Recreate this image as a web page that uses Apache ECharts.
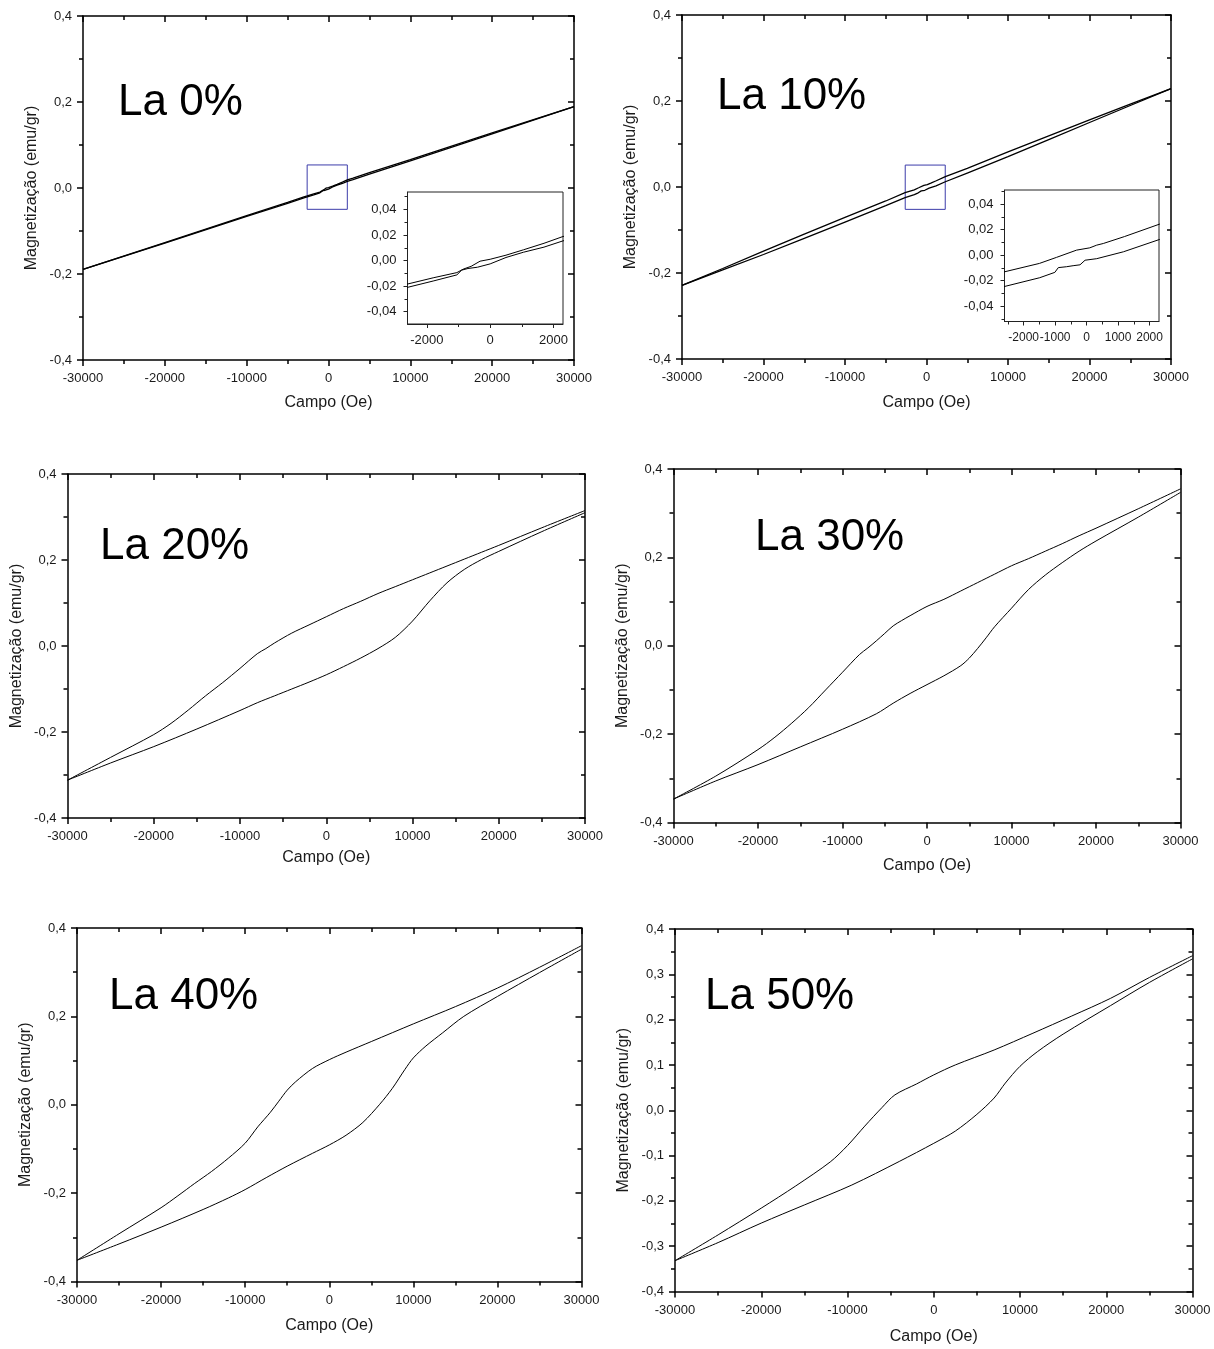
<!DOCTYPE html>
<html><head><meta charset="utf-8">
<script src="https://cdn.jsdelivr.net/npm/echarts@6/dist/echarts.min.js"></script>
<style>html,body{margin:0;padding:0;background:#fff}#c{width:1214px;height:1349px}</style>
</head><body><div id="c"></div>
<script>
const FONT = "'Liberation Sans', Arial, Helvetica, sans-serif";

// ---- texts & tick settings ----
const xTitle = 'Campo (Oe)';
const yTitle = 'Magnetização (emu/gr)';
const panelLabels = ['La 0%', 'La 10%', 'La 20%', 'La 30%', 'La 40%', 'La 50%'];
const fieldRange = [-30000, 30000];
const fieldStep = 10000;
const magRange = [-0.4, 0.4];
const magSteps = [0.2, 0.2, 0.2, 0.2, 0.2, 0.1];

const insetFieldRange = [-2610, 2300];
const insetMagRanges = [[-0.0496, 0.0536], [-0.052, 0.051]];
const insetMagLabels = [-0.04, -0.02, 0, 0.02, 0.04];
const insetMagMinor = [-0.05, -0.03, -0.01, 0.01, 0.03, 0.05];
const insetFieldLabels = [[-2000, 0, 2000], [-2000, -1000, 0, 1000, 2000]];
const insetFieldMinor = [[-1000, 1000], [-2500, -1500, -500, 500, 1500]];

// ---- data: [field (Oe), magnetization (emu/gr)] ----
const la0Upper = [[-30000,-0.189],[-20000,-0.127],[-10000,-0.064],[-5000,-0.0335],[-3000,-0.0205],[-2600,-0.0183],[-1800,-0.0135],[-1050,-0.0094],[-840,-0.0066],[-600,-0.0045],[-320,-0.0005],[0,0.001],[500,0.0042],[1050,0.0084],[1700,0.0135],[2300,0.0188],[3000,0.023],[5000,0.0355],[10000,0.066],[20000,0.128],[30000,0.189]];
const la0Lower = [[-30000,-0.189],[-20000,-0.128],[-10000,-0.066],[-5000,-0.0355],[-3000,-0.0228],[-2600,-0.0209],[-1800,-0.016],[-1050,-0.0112],[-900,-0.0075],[-700,-0.0062],[-400,-0.0052],[0,-0.0026],[500,0.0024],[1050,0.0065],[1700,0.0105],[2300,0.0154],[3000,0.0195],[5000,0.032],[10000,0.063],[20000,0.126],[30000,0.189]];

const la10Upper = [[-30000,-0.229],[-25000,-0.1895],[-20000,-0.149],[-15000,-0.1095],[-10000,-0.0705],[-5000,-0.0325],[-2630,-0.0132],[-1500,-0.0065],[-960,-0.0018],[-320,0.0039],[100,0.0057],[320,0.0078],[530,0.0091],[1200,0.0145],[2310,0.0242],[5000,0.0435],[10000,0.0815],[15000,0.119],[20000,0.156],[25000,0.1925],[30000,0.229]];
const la10Lower = [[-30000,-0.229],[-25000,-0.1925],[-20000,-0.157],[-15000,-0.1195],[-10000,-0.0815],[-5000,-0.0435],[-2630,-0.0247],[-1490,-0.0177],[-1010,-0.0135],[-900,-0.0098],[-640,-0.0091],[-430,-0.0083],[-210,-0.0076],[-50,-0.004],[320,-0.0028],[1170,0.0026],[2310,0.0122],[5000,0.0325],[10000,0.0705],[15000,0.110],[20000,0.150],[25000,0.1895],[30000,0.229]];

const la20Upper = [[-30000,-0.312],[-25000,-0.259],[-20000,-0.206],[-18000,-0.180],[-16000,-0.149],[-14000,-0.116],[-12000,-0.085],[-10000,-0.052],[-8000,-0.018],[-7000,-0.006],[-6000,0.007],[-4000,0.030],[-2000,0.049],[0,0.068],[2000,0.087],[4000,0.104],[6000,0.122],[8000,0.138],[10000,0.154],[12000,0.170],[14000,0.186],[16000,0.202],[18000,0.218],[20000,0.234],[25000,0.275],[30000,0.315]];
const la20Lower = [[-30000,-0.312],[-25000,-0.272],[-20000,-0.234],[-15000,-0.193],[-10000,-0.150],[-8000,-0.132],[-6000,-0.116],[-4000,-0.100],[-2000,-0.084],[0,-0.067],[2000,-0.048],[4000,-0.028],[6000,-0.006],[8000,0.020],[10000,0.058],[12000,0.105],[14000,0.147],[16000,0.178],[18000,0.201],[20000,0.220],[25000,0.266],[30000,0.310]];

const la30Upper = [[-30000,-0.347],[-25000,-0.295],[-20000,-0.235],[-18000,-0.207],[-16000,-0.175],[-14000,-0.140],[-12000,-0.100],[-10000,-0.060],[-8000,-0.020],[-7000,-0.005],[-6000,0.011],[-5000,0.028],[-4000,0.045],[-3000,0.057],[-2000,0.068],[0,0.089],[2000,0.105],[4000,0.124],[6000,0.143],[8000,0.162],[10000,0.181],[12000,0.197],[14000,0.214],[16000,0.231],[18000,0.249],[20000,0.266],[25000,0.310],[30000,0.355]];
const la30Lower = [[-30000,-0.347],[-25000,-0.306],[-20000,-0.269],[-15000,-0.229],[-10000,-0.189],[-6000,-0.154],[-4000,-0.130],[-2000,-0.108],[0,-0.088],[2000,-0.068],[4000,-0.045],[5000,-0.028],[6000,-0.006],[7000,0.018],[8000,0.043],[10000,0.085],[12000,0.127],[14000,0.160],[16000,0.188],[18000,0.214],[20000,0.237],[25000,0.291],[30000,0.347]];

const la40Upper = [[-30000,-0.352],[-25000,-0.292],[-20000,-0.233],[-18000,-0.206],[-16000,-0.178],[-14000,-0.151],[-12000,-0.121],[-10000,-0.087],[-8500,-0.050],[-7000,-0.017],[-6000,0.008],[-5000,0.033],[-4000,0.052],[-2000,0.082],[0,0.102],[2000,0.119],[5000,0.143],[10000,0.183],[15000,0.222],[20000,0.264],[25000,0.311],[30000,0.360]];
const la40Lower = [[-30000,-0.352],[-25000,-0.315],[-20000,-0.277],[-15000,-0.237],[-12000,-0.211],[-10000,-0.192],[-7500,-0.165],[-5000,-0.139],[-2000,-0.110],[0,-0.091],[2000,-0.069],[4000,-0.040],[6000,0.001],[7500,0.037],[9000,0.080],[10000,0.106],[11500,0.133],[13500,0.163],[16000,0.200],[20000,0.245],[25000,0.299],[30000,0.352]];

const la50Upper = [[-30000,-0.332],[-25000,-0.275],[-20000,-0.216],[-16000,-0.167],[-12000,-0.114],[-10000,-0.078],[-8000,-0.035],[-6000,0.006],[-4500,0.034],[-2000,0.058],[0,0.078],[2500,0.100],[7000,0.133],[11500,0.170],[16000,0.208],[20500,0.247],[25000,0.293],[30000,0.341]];
const la50Lower = [[-30000,-0.332],[-25000,-0.292],[-20000,-0.249],[-15000,-0.209],[-9500,-0.165],[-4000,-0.113],[0,-0.073],[2500,-0.046],[5000,-0.009],[7000,0.027],[8300,0.060],[10000,0.097],[12000,0.129],[15000,0.168],[20500,0.231],[25000,0.282],[30000,0.334]];

const panelData = [
  [la0Upper, la0Lower], [la10Upper, la10Lower], [la20Upper, la20Lower],
  [la30Upper, la30Lower], [la40Upper, la40Lower], [la50Upper, la50Lower]
];

// ---- layout (pixel boxes: left, top, right, bottom) ----
const panelRects = [[83,16,574,360],[682,15,1171,359],[67.5,474,585,818],[673.5,469,1180.5,822.5],[77,928,581.5,1281.5],[675,929,1192.5,1291.5]];
const labelPos = [[118,81],[717,75],[100,525],[755,516],[109,975],[705,975]];
const xNameGaps = [35,36,32,35,36,37];
const yNameGap = 43;
const lineWidths = [1.3,1.3,1,1,1,1];
const insetRects = [[407.5,192,563,324],[1004.5,190,1159,321.5]];
const insetXFont = [13, 12];

const option = {animation:false, backgroundColor:'#fff', textStyle:{fontFamily:FONT}, title:[], grid:[], xAxis:[], yAxis:[], series:[]};
const AX = {color:'#000', width:1.5};
const LBL = {fontSize:13, color:'#1a1a1a', fontFamily:FONT};
const comma = (v, d) => (Math.abs(v) < 1e-9 ? 0 : v).toFixed(d).replace('.', ',');
const plain = v => (Math.abs(v) < 1e-9 ? 0 : v).toFixed(0);

function addGrid(r, extra){
  option.grid.push(Object.assign({left:r[0], top:r[1], width:r[2]-r[0], height:r[3]-r[1], containLabel:false, outerBoundsMode:'none'}, extra || {}));
  return option.grid.length - 1;
}

panelRects.forEach((r, i) => {
  const g = addGrid(r);
  const xi = option.xAxis.length, yi = option.yAxis.length;
  const xBase = {gridIndex:g, type:'value', min:fieldRange[0], max:fieldRange[1], interval:fieldStep, splitLine:{show:false}, minorSplitLine:{show:false}};
  const yBase = {gridIndex:g, type:'value', min:magRange[0], max:magRange[1], interval:magSteps[i], splitLine:{show:false}, minorSplitLine:{show:false}};
  option.xAxis.push(Object.assign({}, xBase, {position:'bottom',
    axisLine:{show:true, onZero:false, lineStyle:AX}, axisTick:{show:true, inside:false, length:6, lineStyle:AX},
    minorTick:{show:true, splitNumber:2, length:4, lineStyle:AX},
    axisLabel:Object.assign({margin:12, formatter:plain, hideOverlap:false}, LBL),
    name:xTitle, nameLocation:'middle', nameGap:xNameGaps[i], nameTextStyle:{fontSize:16, color:'#1a1a1a', fontFamily:FONT}}));
  option.xAxis.push(Object.assign({}, xBase, {position:'top',
    axisLine:{show:true, onZero:false, lineStyle:AX}, axisTick:{show:true, inside:true, length:6, lineStyle:AX},
    minorTick:{show:true, splitNumber:2, length:4, lineStyle:AX}, axisLabel:{show:false}}));
  option.yAxis.push(Object.assign({}, yBase, {position:'left',
    axisLine:{show:true, onZero:false, lineStyle:AX}, axisTick:{show:true, inside:false, length:6, lineStyle:AX},
    minorTick:{show:true, splitNumber:2, length:4, lineStyle:AX},
    axisLabel:Object.assign({margin:11, formatter:v => comma(v, 1)}, LBL),
    name:yTitle, nameLocation:'middle', nameRotate:90, nameGap:yNameGap, nameTextStyle:{fontSize:16, color:'#1a1a1a', fontFamily:FONT}}));
  option.yAxis.push(Object.assign({}, yBase, {position:'right',
    axisLine:{show:true, onZero:false, lineStyle:AX}, axisTick:{show:true, inside:true, length:6, lineStyle:AX},
    minorTick:{show:true, splitNumber:2, length:4, lineStyle:AX}, axisLabel:{show:false}}));
  panelData[i].forEach((d, k) => {
    const s = {type:'line', xAxisIndex:xi, yAxisIndex:yi, data:d, showSymbol:false, symbol:'none', silent:true, clip:true,
      smooth: i >= 2 ? 0.3 : false, lineStyle:{color:'#000', width:lineWidths[i]}, z:3};
    if (i < 2 && k === 0) {
      const yr = insetMagRanges[i];
      s.markArea = {silent:true, itemStyle:{color:'rgba(0,0,0,0)', borderColor:'#3c3caa', borderWidth:1}, label:{show:false},
        data:[[{xAxis:insetFieldRange[0], yAxis:yr[0]}, {xAxis:insetFieldRange[1], yAxis:yr[1]}]]};
    }
    option.series.push(s);
  });
  option.title.push({text:panelLabels[i], left:labelPos[i][0], top:labelPos[i][1], padding:0,
    textStyle:{fontSize:44, fontWeight:'normal', color:'#000', fontFamily:FONT}});
});

// ---- insets ----
insetRects.forEach((r, j) => {
  const g = addGrid(r, {show:true, backgroundColor:'#fff', borderColor:'#222', borderWidth:1, z:5});
  const yr = insetMagRanges[j];
  const IL = {color:'#222', width:1};
  const xi = option.xAxis.length, yi = option.yAxis.length;
  const xB = {gridIndex:g, type:'value', min:insetFieldRange[0], max:insetFieldRange[1], position:'bottom', splitLine:{show:false}, z:6};
  const yB = {gridIndex:g, type:'value', min:yr[0], max:yr[1], position:'left', splitLine:{show:false}, z:6};
  option.xAxis.push(Object.assign({}, xB, {axisLine:{show:true, onZero:false, lineStyle:IL},
    axisTick:{show:true, length:4, customValues:insetFieldLabels[j], lineStyle:IL},
    axisLabel:Object.assign({}, LBL, {margin:10, fontSize:insetXFont[j], customValues:insetFieldLabels[j], formatter:plain, hideOverlap:false})}));
  option.xAxis.push(Object.assign({}, xB, {axisLine:{show:false, onZero:false},
    axisTick:{show:true, length:3, customValues:insetFieldMinor[j], lineStyle:IL}, axisLabel:{show:false}}));
  option.yAxis.push(Object.assign({}, yB, {axisLine:{show:true, onZero:false, lineStyle:IL},
    axisTick:{show:true, length:4, customValues:insetMagLabels, lineStyle:IL},
    axisLabel:Object.assign({margin:11, customValues:insetMagLabels, formatter:v => comma(v, 2)}, LBL)}));
  option.yAxis.push(Object.assign({}, yB, {axisLine:{show:false, onZero:false},
    axisTick:{show:true, length:3, customValues:insetMagMinor, lineStyle:IL}, axisLabel:{show:false}}));
  panelData[j].forEach(d => {
    option.series.push({type:'line', xAxisIndex:xi, yAxisIndex:yi, data:d, showSymbol:false, symbol:'none', silent:true, clip:true,
      smooth:false, lineStyle:{color:'#000', width:1}, z:7});
  });
});

const chart = echarts.init(document.getElementById('c'), null, {renderer:'canvas', width:1214, height:1349});
chart.setOption(option);
</script></body></html>
